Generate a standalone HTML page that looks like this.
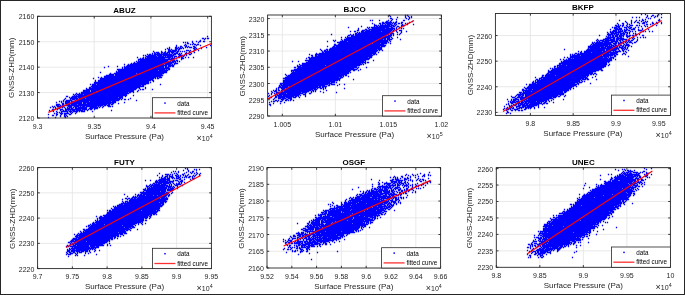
<!DOCTYPE html>
<html><head><meta charset="utf-8"><style>
html,body{margin:0;padding:0;background:#fff;}
svg{display:block;filter:blur(0.3px);}
text{font-family:"Liberation Sans", sans-serif;}
.tk{font-size:7px;fill:#262626;}
.lb{font-size:8px;fill:#262626;}
.tt{font-size:8px;font-weight:bold;fill:#000;}
.lg{font-size:6.3px;fill:#000;}
</style></head><body>
<svg width="685" height="295" viewBox="0 0 685 295">
<rect x="0" y="0" width="685" height="295" fill="#fff"/>
<path d="M94.22 16.30V118.00M150.94 16.30V118.00M207.66 16.30V118.00M37.50 92.58H211.40M37.50 67.15H211.40M37.50 41.72H211.40" stroke="#e3e3e3" stroke-width="0.8" fill="none"/>
<path d="M207.5 36.5h0M202.5 38.5h1M205.5 38.5h0M207.5 38.5h1M204.5 39.5h0M200.5 40.5h0M192.5 41.5h0M196.5 41.5h0M199.5 41.5h1M203.5 41.5h1M183.5 42.5h0M185.5 42.5h0M187.5 42.5h0M192.5 42.5h0M198.5 42.5h0M187.5 43.5h1M193.5 43.5h0M185.5 44.5h0M190.5 44.5h0M192.5 44.5h0M194.5 44.5h1M197.5 44.5h1M176.5 45.5h0M184.5 45.5h0M186.5 45.5h0M196.5 45.5h0M200.5 45.5h0M210.5 45.5h0M176.5 46.5h0M180.5 46.5h1M185.5 46.5h1M188.5 46.5h0M193.5 46.5h1M169.5 47.5h0M175.5 47.5h1M178.5 47.5h0M180.5 47.5h0M182.5 47.5h0M185.5 47.5h0M187.5 47.5h0M189.5 47.5h2M194.5 47.5h1M206.5 47.5h0M167.5 48.5h0M169.5 48.5h0M175.5 48.5h2M179.5 48.5h2M183.5 48.5h0M193.5 48.5h1M196.5 48.5h0M201.5 48.5h0M165.5 49.5h0M168.5 49.5h1M171.5 49.5h0M175.5 49.5h1M178.5 49.5h1M194.5 49.5h1M168.5 50.5h2M172.5 50.5h4M178.5 50.5h0M186.5 50.5h2M190.5 50.5h0M194.5 50.5h0M198.5 50.5h0M153.5 51.5h0M161.5 51.5h0M165.5 51.5h0M168.5 51.5h7M177.5 51.5h1M180.5 51.5h0M182.5 51.5h0M184.5 51.5h0M189.5 51.5h0M193.5 51.5h0M154.5 52.5h0M156.5 52.5h2M161.5 52.5h1M164.5 52.5h1M167.5 52.5h2M171.5 52.5h2M176.5 52.5h1M186.5 52.5h0M189.5 52.5h1M194.5 52.5h0M152.5 53.5h0M154.5 53.5h1M157.5 53.5h2M161.5 53.5h0M163.5 53.5h4M169.5 53.5h0M172.5 53.5h0M174.5 53.5h3M179.5 53.5h0M181.5 53.5h0M185.5 53.5h1M188.5 53.5h0M191.5 53.5h0M147.5 54.5h0M149.5 54.5h1M152.5 54.5h0M154.5 54.5h17M173.5 54.5h2M178.5 54.5h2M186.5 54.5h0M189.5 54.5h1M143.5 55.5h0M145.5 55.5h0M148.5 55.5h7M157.5 55.5h4M163.5 55.5h10M179.5 55.5h3M184.5 55.5h0M186.5 55.5h0M146.5 56.5h10M158.5 56.5h5M165.5 56.5h0M167.5 56.5h5M174.5 56.5h2M178.5 56.5h1M181.5 56.5h0M183.5 56.5h0M137.5 57.5h0M143.5 57.5h0M145.5 57.5h0M147.5 57.5h23M172.5 57.5h0M174.5 57.5h0M178.5 57.5h1M181.5 57.5h1M185.5 57.5h0M188.5 57.5h0M193.5 57.5h0M140.5 58.5h0M142.5 58.5h1M145.5 58.5h19M168.5 58.5h1M171.5 58.5h3M176.5 58.5h0M181.5 58.5h2M138.5 59.5h35M181.5 59.5h0M138.5 60.5h0M140.5 60.5h27M171.5 60.5h3M176.5 60.5h1M136.5 61.5h0M138.5 61.5h30M170.5 61.5h0M172.5 61.5h3M177.5 61.5h0M179.5 61.5h0M134.5 62.5h0M137.5 62.5h36M175.5 62.5h0M131.5 63.5h0M133.5 63.5h29M164.5 63.5h7M174.5 63.5h3M124.5 64.5h0M128.5 64.5h0M130.5 64.5h33M165.5 64.5h5M172.5 64.5h0M174.5 64.5h0M127.5 65.5h39M168.5 65.5h5M108.5 66.5h0M117.5 66.5h0M124.5 66.5h0M126.5 66.5h37M165.5 66.5h1M168.5 66.5h2M172.5 66.5h1M104.5 67.5h0M122.5 67.5h0M124.5 67.5h39M165.5 67.5h3M122.5 68.5h0M124.5 68.5h45M117.5 69.5h47M166.5 69.5h0M168.5 69.5h1M118.5 70.5h39M159.5 70.5h8M116.5 71.5h0M118.5 71.5h48M100.5 72.5h0M116.5 72.5h50M110.5 73.5h0M114.5 73.5h21M137.5 73.5h26M109.5 74.5h4M115.5 74.5h46M106.5 75.5h7M115.5 75.5h47M104.5 76.5h56M98.5 77.5h0M101.5 77.5h0M104.5 77.5h51M157.5 77.5h0M159.5 77.5h2M93.5 78.5h0M100.5 78.5h53M155.5 78.5h0M157.5 78.5h1M100.5 79.5h52M95.5 80.5h0M98.5 80.5h52M152.5 80.5h1M95.5 81.5h0M98.5 81.5h50M153.5 81.5h0M94.5 82.5h54M150.5 82.5h0M94.5 83.5h54M90.5 84.5h0M92.5 84.5h3M97.5 84.5h48M160.5 84.5h0M92.5 85.5h48M142.5 85.5h1M91.5 86.5h52M89.5 87.5h1M92.5 87.5h47M145.5 87.5h0M86.5 88.5h0M89.5 88.5h47M139.5 88.5h0M145.5 88.5h0M86.5 89.5h49M140.5 89.5h0M142.5 89.5h1M152.5 89.5h0M83.5 90.5h6M91.5 90.5h42M138.5 90.5h0M83.5 91.5h6M91.5 91.5h4M97.5 91.5h36M137.5 91.5h0M81.5 92.5h46M129.5 92.5h1M133.5 92.5h0M76.5 93.5h0M79.5 93.5h0M81.5 93.5h47M73.5 94.5h0M75.5 94.5h0M77.5 94.5h5M84.5 94.5h42M74.5 95.5h0M76.5 95.5h0M78.5 95.5h48M133.5 95.5h0M66.5 96.5h1M72.5 96.5h50M125.5 96.5h0M69.5 97.5h0M71.5 97.5h5M78.5 97.5h39M119.5 97.5h3M65.5 98.5h0M70.5 98.5h7M79.5 98.5h5M86.5 98.5h34M122.5 98.5h0M130.5 98.5h0M64.5 99.5h0M70.5 99.5h0M72.5 99.5h2M76.5 99.5h43M121.5 99.5h0M124.5 99.5h1M128.5 99.5h0M63.5 100.5h0M66.5 100.5h5M75.5 100.5h0M77.5 100.5h41M136.5 100.5h0M59.5 101.5h0M61.5 101.5h0M63.5 101.5h0M65.5 101.5h4M71.5 101.5h17M90.5 101.5h20M112.5 101.5h3M56.5 102.5h0M61.5 102.5h0M65.5 102.5h4M71.5 102.5h10M83.5 102.5h32M124.5 102.5h0M62.5 103.5h1M65.5 103.5h3M70.5 103.5h11M83.5 103.5h2M87.5 103.5h23M112.5 103.5h1M118.5 103.5h0M56.5 104.5h3M62.5 104.5h1M68.5 104.5h1M71.5 104.5h5M78.5 104.5h28M108.5 104.5h1M111.5 104.5h1M56.5 105.5h2M60.5 105.5h0M62.5 105.5h40M104.5 105.5h1M107.5 105.5h2M52.5 106.5h0M54.5 106.5h0M57.5 106.5h6M68.5 106.5h3M74.5 106.5h4M80.5 106.5h0M82.5 106.5h2M86.5 106.5h10M98.5 106.5h0M100.5 106.5h0M103.5 106.5h0M108.5 106.5h2M112.5 106.5h0M50.5 107.5h0M53.5 107.5h0M55.5 107.5h0M59.5 107.5h1M62.5 107.5h0M64.5 107.5h0M67.5 107.5h0M69.5 107.5h2M73.5 107.5h0M75.5 107.5h1M78.5 107.5h8M90.5 107.5h7M99.5 107.5h0M102.5 107.5h0M55.5 108.5h0M57.5 108.5h2M65.5 108.5h0M67.5 108.5h2M71.5 108.5h1M75.5 108.5h11M89.5 108.5h3M94.5 108.5h3M52.5 109.5h1M57.5 109.5h0M60.5 109.5h2M65.5 109.5h15M82.5 109.5h4M88.5 109.5h0M90.5 109.5h1M94.5 109.5h0M49.5 110.5h0M52.5 110.5h0M60.5 110.5h0M63.5 110.5h0M65.5 110.5h1M68.5 110.5h0M70.5 110.5h0M72.5 110.5h2M76.5 110.5h6M84.5 110.5h0M87.5 110.5h0M111.5 110.5h0M53.5 111.5h0M56.5 111.5h0M61.5 111.5h6M69.5 111.5h2M73.5 111.5h4M79.5 111.5h0M81.5 111.5h3M92.5 111.5h0M57.5 112.5h0M59.5 112.5h0M61.5 112.5h0M67.5 112.5h0M70.5 112.5h0M72.5 112.5h0M76.5 112.5h0M54.5 113.5h0M56.5 113.5h0M60.5 113.5h2M64.5 113.5h4M71.5 113.5h0M75.5 113.5h0M48.5 114.5h0M56.5 114.5h1M61.5 114.5h0M64.5 114.5h1M69.5 114.5h1M52.5 115.5h1M56.5 115.5h0M60.5 115.5h0M64.5 115.5h0M66.5 115.5h0M60.5 116.5h0M64.5 116.5h1M67.5 116.5h0M48.5 117.5h0M55.5 117.5h0M65.5 117.5h0" stroke="#0000ff" stroke-width="1.3" stroke-linecap="square" fill="none"/>
<path d="M48.40 112.40L211.40 43.50" stroke="#ff0000" stroke-width="1.15" fill="none"/>
<path d="M37.50 118.00v-2.2M37.50 16.30v2.2M94.22 118.00v-2.2M94.22 16.30v2.2M150.94 118.00v-2.2M150.94 16.30v2.2M207.66 118.00v-2.2M207.66 16.30v2.2M37.50 118.00h2.2M211.40 118.00h-2.2M37.50 92.58h2.2M211.40 92.58h-2.2M37.50 67.15h2.2M211.40 67.15h-2.2M37.50 41.72h2.2M211.40 41.72h-2.2M37.50 16.30h2.2M211.40 16.30h-2.2" stroke="#262626" stroke-width="0.9" fill="none"/>
<rect x="37.50" y="16.30" width="173.90" height="101.70" fill="none" stroke="#262626" stroke-width="0.9"/>
<text x="37.50" y="128.80" text-anchor="middle" class="tk">9.3</text>
<text x="94.22" y="128.80" text-anchor="middle" class="tk">9.35</text>
<text x="150.94" y="128.80" text-anchor="middle" class="tk">9.4</text>
<text x="207.66" y="128.80" text-anchor="middle" class="tk">9.45</text>
<text x="34.30" y="121.00" text-anchor="end" class="tk">2120</text>
<text x="34.30" y="95.58" text-anchor="end" class="tk">2130</text>
<text x="34.30" y="70.15" text-anchor="end" class="tk">2140</text>
<text x="34.30" y="44.72" text-anchor="end" class="tk">2150</text>
<text x="34.30" y="19.30" text-anchor="end" class="tk">2160</text>
<text x="124.45" y="138.50" text-anchor="middle" class="lb">Surface Pressure (Pa)</text>
<text transform="translate(14.10 67.85) rotate(-90)" text-anchor="middle" class="lb">GNSS-ZHD(mm)</text>
<text x="212.60" y="140.80" text-anchor="end" class="tk"><tspan font-size="9">&#215;</tspan>10<tspan dy="-3.2" font-size="5.3">4</tspan></text>
<text x="124.45" y="13.20" text-anchor="middle" class="tt">ABUZ</text>
<rect x="152.40" y="97.70" width="59.00" height="20.30" fill="#fff" stroke="#262626" stroke-width="0.8"/>
<rect x="164.25" y="102.35" width="1.5" height="1.5" fill="#0000ff"/>
<path d="M154.40 112.90H175.40" stroke="#ff3030" stroke-width="1.3"/>
<text x="177.20" y="105.50" class="lg">data</text>
<text x="177.20" y="115.00" class="lg">fitted curve</text>
<path d="M282.34 15.00V116.00M335.36 15.00V116.00M388.38 15.00V116.00M267.60 99.76H441.40M267.60 83.52H441.40M267.60 67.29H441.40M267.60 51.05H441.40M267.60 34.81H441.40M267.60 18.57H441.40" stroke="#e3e3e3" stroke-width="0.8" fill="none"/>
<path d="M389.5 15.5h0M405.5 15.5h0M407.5 15.5h0M390.5 16.5h0M405.5 16.5h0M408.5 16.5h0M411.5 16.5h0M397.5 17.5h0M405.5 17.5h0M409.5 17.5h0M411.5 17.5h0M390.5 18.5h1M406.5 18.5h0M409.5 18.5h0M392.5 19.5h0M396.5 19.5h0M408.5 19.5h0M370.5 20.5h0M372.5 20.5h0M379.5 20.5h0M388.5 20.5h0M391.5 20.5h0M403.5 20.5h1M386.5 21.5h1M390.5 21.5h0M396.5 21.5h0M412.5 21.5h0M382.5 22.5h1M385.5 22.5h6M393.5 22.5h0M395.5 22.5h1M401.5 22.5h1M409.5 22.5h0M372.5 23.5h0M379.5 23.5h1M382.5 23.5h2M386.5 23.5h4M392.5 23.5h0M394.5 23.5h1M398.5 23.5h1M401.5 23.5h0M405.5 23.5h0M407.5 23.5h0M374.5 24.5h0M380.5 24.5h0M382.5 24.5h0M385.5 24.5h0M387.5 24.5h4M394.5 24.5h0M396.5 24.5h0M402.5 24.5h0M407.5 24.5h0M413.5 24.5h0M374.5 25.5h2M378.5 25.5h0M380.5 25.5h9M391.5 25.5h2M395.5 25.5h0M401.5 25.5h3M361.5 26.5h0M374.5 26.5h0M376.5 26.5h1M379.5 26.5h12M393.5 26.5h1M397.5 26.5h1M401.5 26.5h0M348.5 27.5h0M367.5 27.5h0M369.5 27.5h0M371.5 27.5h17M391.5 27.5h1M396.5 27.5h0M399.5 27.5h0M358.5 28.5h0M368.5 28.5h0M372.5 28.5h12M386.5 28.5h8M396.5 28.5h0M401.5 28.5h0M403.5 28.5h0M358.5 29.5h0M365.5 29.5h1M369.5 29.5h23M394.5 29.5h0M396.5 29.5h0M357.5 30.5h1M362.5 30.5h2M366.5 30.5h3M371.5 30.5h20M393.5 30.5h0M396.5 30.5h0M399.5 30.5h2M350.5 31.5h0M354.5 31.5h1M361.5 31.5h2M365.5 31.5h15M382.5 31.5h8M392.5 31.5h0M396.5 31.5h0M401.5 31.5h0M406.5 31.5h0M357.5 32.5h0M359.5 32.5h0M361.5 32.5h28M391.5 32.5h0M397.5 32.5h0M401.5 32.5h0M355.5 33.5h1M358.5 33.5h30M390.5 33.5h3M400.5 33.5h0M331.5 34.5h0M350.5 34.5h0M353.5 34.5h0M355.5 34.5h33M390.5 34.5h1M393.5 34.5h0M397.5 34.5h0M399.5 34.5h0M348.5 35.5h1M351.5 35.5h2M355.5 35.5h30M388.5 35.5h3M393.5 35.5h0M347.5 36.5h0M351.5 36.5h39M341.5 37.5h0M345.5 37.5h0M347.5 37.5h42M391.5 37.5h0M397.5 37.5h0M346.5 38.5h39M387.5 38.5h2M392.5 38.5h0M341.5 39.5h0M344.5 39.5h38M384.5 39.5h1M387.5 39.5h4M400.5 39.5h0M333.5 40.5h0M335.5 40.5h0M342.5 40.5h0M344.5 40.5h43M389.5 40.5h0M327.5 41.5h0M334.5 41.5h0M340.5 41.5h6M348.5 41.5h39M390.5 41.5h0M337.5 42.5h49M388.5 42.5h0M339.5 43.5h32M373.5 43.5h6M381.5 43.5h5M390.5 43.5h0M334.5 44.5h1M338.5 44.5h45M334.5 45.5h51M327.5 46.5h0M333.5 46.5h1M336.5 46.5h43M381.5 46.5h3M332.5 47.5h49M330.5 48.5h51M320.5 49.5h0M326.5 49.5h1M329.5 49.5h47M378.5 49.5h3M321.5 50.5h0M324.5 50.5h1M327.5 50.5h0M329.5 50.5h48M379.5 50.5h0M382.5 50.5h0M322.5 51.5h0M324.5 51.5h52M322.5 52.5h1M325.5 52.5h50M378.5 52.5h0M316.5 53.5h0M319.5 53.5h56M309.5 54.5h0M315.5 54.5h56M373.5 54.5h1M376.5 54.5h0M311.5 55.5h1M315.5 55.5h1M318.5 55.5h54M312.5 56.5h0M315.5 56.5h56M308.5 57.5h1M311.5 57.5h56M369.5 57.5h2M306.5 58.5h0M309.5 58.5h60M309.5 59.5h59M305.5 60.5h60M373.5 60.5h0M292.5 61.5h0M298.5 61.5h0M308.5 61.5h55M365.5 61.5h0M306.5 62.5h59M367.5 62.5h1M302.5 63.5h58M362.5 63.5h0M365.5 63.5h0M299.5 64.5h0M302.5 64.5h59M363.5 64.5h0M297.5 65.5h0M300.5 65.5h24M326.5 65.5h33M297.5 66.5h3M302.5 66.5h54M294.5 67.5h1M298.5 67.5h58M358.5 67.5h0M366.5 67.5h0M297.5 68.5h56M357.5 68.5h0M294.5 69.5h62M360.5 69.5h0M291.5 70.5h59M353.5 70.5h1M358.5 70.5h0M291.5 71.5h0M293.5 71.5h0M295.5 71.5h54M292.5 72.5h56M350.5 72.5h0M291.5 73.5h57M285.5 74.5h0M290.5 74.5h56M286.5 75.5h0M288.5 75.5h55M345.5 75.5h1M287.5 76.5h54M343.5 76.5h0M348.5 76.5h0M285.5 77.5h53M340.5 77.5h2M283.5 78.5h57M285.5 79.5h54M353.5 79.5h0M283.5 80.5h54M339.5 80.5h0M283.5 81.5h51M283.5 82.5h46M331.5 82.5h3M336.5 82.5h0M280.5 83.5h51M280.5 84.5h1M283.5 84.5h44M329.5 84.5h0M331.5 84.5h3M339.5 84.5h0M344.5 84.5h0M279.5 85.5h0M281.5 85.5h43M328.5 85.5h1M337.5 85.5h0M279.5 86.5h1M282.5 86.5h5M289.5 86.5h28M319.5 86.5h1M322.5 86.5h4M278.5 87.5h42M322.5 87.5h1M325.5 87.5h0M276.5 88.5h0M278.5 88.5h0M281.5 88.5h3M286.5 88.5h29M317.5 88.5h0M320.5 88.5h1M323.5 88.5h0M325.5 88.5h0M344.5 88.5h0M276.5 89.5h0M278.5 89.5h0M282.5 89.5h30M314.5 89.5h2M323.5 89.5h0M273.5 90.5h0M275.5 90.5h1M278.5 90.5h1M281.5 90.5h29M312.5 90.5h1M315.5 90.5h0M326.5 90.5h0M271.5 91.5h0M274.5 91.5h2M281.5 91.5h1M284.5 91.5h24M311.5 91.5h0M313.5 91.5h0M315.5 91.5h0M320.5 91.5h0M272.5 92.5h0M276.5 92.5h24M302.5 92.5h4M311.5 92.5h0M323.5 92.5h0M336.5 92.5h0M268.5 93.5h0M271.5 93.5h0M274.5 93.5h0M276.5 93.5h0M278.5 93.5h7M287.5 93.5h15M305.5 93.5h0M309.5 93.5h1M271.5 94.5h0M275.5 94.5h2M279.5 94.5h20M303.5 94.5h2M269.5 95.5h0M275.5 95.5h0M277.5 95.5h4M283.5 95.5h15M300.5 95.5h0M305.5 95.5h0M268.5 96.5h0M275.5 96.5h1M278.5 96.5h15M295.5 96.5h1M298.5 96.5h0M305.5 96.5h0M270.5 97.5h1M275.5 97.5h1M278.5 97.5h6M286.5 97.5h5M293.5 97.5h2M299.5 97.5h0M269.5 98.5h0M274.5 98.5h0M278.5 98.5h2M282.5 98.5h3M288.5 98.5h3M273.5 99.5h0M281.5 99.5h2M286.5 99.5h1M290.5 99.5h1M275.5 100.5h1M278.5 100.5h0M282.5 100.5h0M285.5 100.5h1M288.5 100.5h0M290.5 100.5h0M293.5 100.5h0M271.5 101.5h0M273.5 101.5h1M277.5 101.5h0M280.5 101.5h1M269.5 102.5h0M284.5 102.5h0M273.5 103.5h0M280.5 103.5h0M269.5 104.5h1M270.5 105.5h0" stroke="#0000ff" stroke-width="1.3" stroke-linecap="square" fill="none"/>
<path d="M267.60 99.00L414.00 20.60" stroke="#ff0000" stroke-width="1.15" fill="none"/>
<path d="M282.34 116.00v-2.2M282.34 15.00v2.2M335.36 116.00v-2.2M335.36 15.00v2.2M388.38 116.00v-2.2M388.38 15.00v2.2M441.40 116.00v-2.2M441.40 15.00v2.2M267.60 116.00h2.2M441.40 116.00h-2.2M267.60 99.76h2.2M441.40 99.76h-2.2M267.60 83.52h2.2M441.40 83.52h-2.2M267.60 67.29h2.2M441.40 67.29h-2.2M267.60 51.05h2.2M441.40 51.05h-2.2M267.60 34.81h2.2M441.40 34.81h-2.2M267.60 18.57h2.2M441.40 18.57h-2.2" stroke="#262626" stroke-width="0.9" fill="none"/>
<rect x="267.60" y="15.00" width="173.80" height="101.00" fill="none" stroke="#262626" stroke-width="0.9"/>
<text x="282.34" y="126.80" text-anchor="middle" class="tk">1.005</text>
<text x="335.36" y="126.80" text-anchor="middle" class="tk">1.01</text>
<text x="388.38" y="126.80" text-anchor="middle" class="tk">1.015</text>
<text x="441.40" y="126.80" text-anchor="middle" class="tk">1.02</text>
<text x="264.40" y="119.00" text-anchor="end" class="tk">2290</text>
<text x="264.40" y="102.76" text-anchor="end" class="tk">2295</text>
<text x="264.40" y="86.52" text-anchor="end" class="tk">2300</text>
<text x="264.40" y="70.29" text-anchor="end" class="tk">2305</text>
<text x="264.40" y="54.05" text-anchor="end" class="tk">2310</text>
<text x="264.40" y="37.81" text-anchor="end" class="tk">2315</text>
<text x="264.40" y="21.57" text-anchor="end" class="tk">2320</text>
<text x="354.50" y="136.50" text-anchor="middle" class="lb">Surface Pressure (Pa)</text>
<text transform="translate(244.60 66.20) rotate(-90)" text-anchor="middle" class="lb">GNSS-ZHD(mm)</text>
<text x="442.60" y="138.80" text-anchor="end" class="tk"><tspan font-size="9">&#215;</tspan>10<tspan dy="-3.2" font-size="5.3">5</tspan></text>
<text x="354.50" y="11.90" text-anchor="middle" class="tt">BJCO</text>
<rect x="382.40" y="95.70" width="59.00" height="20.30" fill="#fff" stroke="#262626" stroke-width="0.8"/>
<rect x="394.25" y="100.35" width="1.5" height="1.5" fill="#0000ff"/>
<path d="M384.40 110.90H405.40" stroke="#ff3030" stroke-width="1.3"/>
<text x="407.20" y="103.50" class="lg">data</text>
<text x="407.20" y="113.00" class="lg">fitted curve</text>
<path d="M530.40 13.50V115.40M573.19 13.50V115.40M615.97 13.50V115.40M658.76 13.50V115.40M495.40 112.40H670.40M495.40 86.78H670.40M495.40 61.16H670.40M495.40 35.54H670.40" stroke="#e3e3e3" stroke-width="0.8" fill="none"/>
<path d="M641.5 14.5h0M645.5 14.5h0M658.5 14.5h0M661.5 14.5h0M647.5 15.5h0M652.5 15.5h1M657.5 15.5h0M647.5 16.5h0M651.5 16.5h0M655.5 16.5h0M657.5 16.5h0M632.5 17.5h0M636.5 17.5h0M639.5 17.5h0M646.5 17.5h0M654.5 17.5h0M661.5 17.5h0M648.5 18.5h0M650.5 18.5h0M642.5 19.5h0M645.5 19.5h0M659.5 19.5h0M619.5 20.5h0M631.5 20.5h0M636.5 20.5h0M639.5 20.5h0M642.5 20.5h1M658.5 20.5h1M625.5 21.5h0M631.5 21.5h0M635.5 21.5h0M641.5 21.5h0M645.5 21.5h0M647.5 21.5h0M626.5 22.5h0M631.5 22.5h0M634.5 22.5h0M637.5 22.5h1M643.5 22.5h1M646.5 22.5h0M652.5 22.5h0M656.5 22.5h0M661.5 22.5h0M617.5 23.5h0M622.5 23.5h1M627.5 23.5h0M631.5 23.5h0M639.5 23.5h0M642.5 23.5h2M652.5 23.5h1M657.5 23.5h0M661.5 23.5h0M618.5 24.5h0M623.5 24.5h0M627.5 24.5h0M629.5 24.5h0M646.5 24.5h1M650.5 24.5h0M615.5 25.5h1M618.5 25.5h0M620.5 25.5h0M622.5 25.5h1M626.5 25.5h0M630.5 25.5h2M636.5 25.5h1M639.5 25.5h0M644.5 25.5h0M652.5 25.5h0M656.5 25.5h0M616.5 26.5h3M622.5 26.5h0M627.5 26.5h0M629.5 26.5h0M641.5 26.5h0M645.5 26.5h0M647.5 26.5h0M612.5 27.5h0M614.5 27.5h2M618.5 27.5h1M624.5 27.5h2M628.5 27.5h0M630.5 27.5h1M635.5 27.5h0M638.5 27.5h0M614.5 28.5h3M619.5 28.5h2M626.5 28.5h0M629.5 28.5h1M633.5 28.5h1M642.5 28.5h0M610.5 29.5h0M615.5 29.5h6M624.5 29.5h0M626.5 29.5h1M631.5 29.5h3M638.5 29.5h0M642.5 29.5h0M648.5 29.5h0M613.5 30.5h3M618.5 30.5h0M620.5 30.5h0M622.5 30.5h0M624.5 30.5h2M628.5 30.5h1M638.5 30.5h3M610.5 31.5h0M612.5 31.5h4M618.5 31.5h4M624.5 31.5h1M630.5 31.5h0M632.5 31.5h0M635.5 31.5h0M642.5 31.5h1M645.5 31.5h0M649.5 31.5h0M652.5 31.5h0M607.5 32.5h0M610.5 32.5h3M615.5 32.5h5M623.5 32.5h0M625.5 32.5h2M629.5 32.5h0M640.5 32.5h0M608.5 33.5h0M611.5 33.5h5M618.5 33.5h0M620.5 33.5h4M627.5 33.5h0M629.5 33.5h0M633.5 33.5h0M635.5 33.5h0M607.5 34.5h5M614.5 34.5h0M616.5 34.5h2M620.5 34.5h1M623.5 34.5h1M626.5 34.5h0M635.5 34.5h1M639.5 34.5h0M599.5 35.5h0M608.5 35.5h2M612.5 35.5h1M615.5 35.5h2M619.5 35.5h4M626.5 35.5h1M629.5 35.5h1M632.5 35.5h1M635.5 35.5h1M642.5 35.5h1M606.5 36.5h0M608.5 36.5h0M610.5 36.5h0M612.5 36.5h1M615.5 36.5h2M619.5 36.5h2M623.5 36.5h0M626.5 36.5h3M607.5 37.5h7M617.5 37.5h1M620.5 37.5h1M627.5 37.5h0M633.5 37.5h0M637.5 37.5h0M640.5 37.5h0M643.5 37.5h0M645.5 37.5h0M605.5 38.5h5M613.5 38.5h1M616.5 38.5h7M629.5 38.5h0M632.5 38.5h0M634.5 38.5h0M597.5 39.5h0M603.5 39.5h5M610.5 39.5h4M616.5 39.5h2M620.5 39.5h6M633.5 39.5h0M637.5 39.5h0M596.5 40.5h0M598.5 40.5h0M600.5 40.5h3M605.5 40.5h9M616.5 40.5h1M619.5 40.5h1M622.5 40.5h0M626.5 40.5h0M628.5 40.5h1M631.5 40.5h1M637.5 40.5h0M597.5 41.5h0M599.5 41.5h0M602.5 41.5h6M611.5 41.5h6M620.5 41.5h0M623.5 41.5h0M625.5 41.5h1M628.5 41.5h0M630.5 41.5h0M636.5 41.5h0M592.5 42.5h0M594.5 42.5h0M596.5 42.5h6M604.5 42.5h8M615.5 42.5h1M618.5 42.5h0M620.5 42.5h2M625.5 42.5h0M627.5 42.5h0M629.5 42.5h2M634.5 42.5h1M592.5 43.5h1M595.5 43.5h15M613.5 43.5h3M618.5 43.5h3M623.5 43.5h0M626.5 43.5h0M632.5 43.5h0M591.5 44.5h0M593.5 44.5h18M614.5 44.5h1M618.5 44.5h1M624.5 44.5h0M626.5 44.5h2M590.5 45.5h0M592.5 45.5h15M609.5 45.5h0M611.5 45.5h2M615.5 45.5h1M618.5 45.5h0M620.5 45.5h1M623.5 45.5h0M625.5 45.5h4M588.5 46.5h15M605.5 46.5h6M613.5 46.5h2M617.5 46.5h0M619.5 46.5h0M622.5 46.5h1M625.5 46.5h0M628.5 46.5h0M631.5 46.5h0M588.5 47.5h11M601.5 47.5h4M607.5 47.5h5M614.5 47.5h3M619.5 47.5h3M624.5 47.5h1M627.5 47.5h0M588.5 48.5h0M590.5 48.5h28M621.5 48.5h2M625.5 48.5h0M627.5 48.5h0M564.5 49.5h0M587.5 49.5h17M606.5 49.5h10M618.5 49.5h0M622.5 49.5h0M624.5 49.5h0M626.5 49.5h0M586.5 50.5h18M606.5 50.5h9M619.5 50.5h0M622.5 50.5h1M628.5 50.5h0M578.5 51.5h0M581.5 51.5h0M584.5 51.5h17M603.5 51.5h7M613.5 51.5h0M615.5 51.5h5M623.5 51.5h0M625.5 51.5h0M580.5 52.5h1M584.5 52.5h6M592.5 52.5h25M626.5 52.5h0M575.5 53.5h1M578.5 53.5h0M580.5 53.5h28M610.5 53.5h6M623.5 53.5h1M570.5 54.5h0M572.5 54.5h0M574.5 54.5h0M577.5 54.5h37M616.5 54.5h1M622.5 54.5h0M625.5 54.5h0M570.5 55.5h0M572.5 55.5h7M581.5 55.5h20M603.5 55.5h9M614.5 55.5h1M570.5 56.5h38M610.5 56.5h0M614.5 56.5h1M628.5 56.5h0M564.5 57.5h0M567.5 57.5h0M570.5 57.5h32M604.5 57.5h2M608.5 57.5h0M610.5 57.5h3M568.5 58.5h2M572.5 58.5h0M574.5 58.5h33M609.5 58.5h2M613.5 58.5h0M560.5 59.5h0M563.5 59.5h0M566.5 59.5h0M568.5 59.5h43M615.5 59.5h0M564.5 60.5h47M561.5 61.5h0M563.5 61.5h46M561.5 62.5h45M608.5 62.5h0M559.5 63.5h47M559.5 64.5h1M562.5 64.5h44M609.5 64.5h0M557.5 65.5h8M567.5 65.5h38M608.5 65.5h0M554.5 66.5h1M557.5 66.5h0M559.5 66.5h46M554.5 67.5h0M557.5 67.5h46M550.5 68.5h0M552.5 68.5h0M554.5 68.5h47M552.5 69.5h49M548.5 70.5h0M551.5 70.5h47M601.5 70.5h1M548.5 71.5h47M548.5 72.5h44M547.5 73.5h1M550.5 73.5h42M594.5 73.5h1M546.5 74.5h42M590.5 74.5h1M593.5 74.5h0M596.5 74.5h0M542.5 75.5h1M545.5 75.5h9M556.5 75.5h32M542.5 76.5h0M545.5 76.5h40M587.5 76.5h0M595.5 76.5h0M535.5 77.5h0M541.5 77.5h45M592.5 77.5h0M539.5 78.5h2M543.5 78.5h40M585.5 78.5h2M536.5 79.5h1M539.5 79.5h0M541.5 79.5h39M582.5 79.5h3M587.5 79.5h1M596.5 79.5h0M535.5 80.5h0M537.5 80.5h42M581.5 80.5h0M533.5 81.5h0M535.5 81.5h0M537.5 81.5h42M582.5 81.5h0M584.5 81.5h0M532.5 82.5h1M535.5 82.5h42M579.5 82.5h2M532.5 83.5h3M537.5 83.5h37M577.5 83.5h1M590.5 83.5h0M526.5 84.5h0M529.5 84.5h47M578.5 84.5h0M529.5 85.5h46M528.5 86.5h45M576.5 86.5h0M524.5 87.5h0M527.5 87.5h44M525.5 88.5h45M573.5 88.5h0M522.5 89.5h1M526.5 89.5h0M528.5 89.5h3M533.5 89.5h35M570.5 89.5h0M522.5 90.5h46M523.5 91.5h0M525.5 91.5h5M532.5 91.5h30M564.5 91.5h2M519.5 92.5h2M523.5 92.5h39M564.5 92.5h1M520.5 93.5h0M522.5 93.5h41M517.5 94.5h6M525.5 94.5h38M516.5 95.5h0M518.5 95.5h2M522.5 95.5h1M525.5 95.5h32M560.5 95.5h0M565.5 95.5h0M511.5 96.5h0M515.5 96.5h0M518.5 96.5h1M521.5 96.5h1M525.5 96.5h31M558.5 96.5h1M564.5 96.5h0M512.5 97.5h2M517.5 97.5h9M528.5 97.5h23M553.5 97.5h2M515.5 98.5h1M520.5 98.5h4M526.5 98.5h26M507.5 99.5h0M511.5 99.5h0M513.5 99.5h5M520.5 99.5h2M524.5 99.5h2M528.5 99.5h20M553.5 99.5h0M563.5 99.5h0M511.5 100.5h0M513.5 100.5h2M518.5 100.5h0M521.5 100.5h3M526.5 100.5h20M548.5 100.5h0M551.5 100.5h0M508.5 101.5h0M510.5 101.5h0M512.5 101.5h2M516.5 101.5h3M521.5 101.5h1M524.5 101.5h11M537.5 101.5h6M545.5 101.5h1M549.5 101.5h0M510.5 102.5h5M517.5 102.5h2M521.5 102.5h2M525.5 102.5h1M528.5 102.5h11M541.5 102.5h0M544.5 102.5h1M553.5 102.5h0M508.5 103.5h0M511.5 103.5h1M516.5 103.5h6M524.5 103.5h4M530.5 103.5h11M543.5 103.5h1M546.5 103.5h1M506.5 104.5h0M508.5 104.5h0M513.5 104.5h0M515.5 104.5h1M518.5 104.5h0M520.5 104.5h4M526.5 104.5h1M529.5 104.5h9M542.5 104.5h0M509.5 105.5h0M511.5 105.5h0M514.5 105.5h1M518.5 105.5h2M522.5 105.5h14M538.5 105.5h0M504.5 106.5h0M509.5 106.5h3M516.5 106.5h3M522.5 106.5h3M527.5 106.5h6M538.5 106.5h0M507.5 107.5h0M509.5 107.5h0M511.5 107.5h0M513.5 107.5h0M516.5 107.5h0M519.5 107.5h4M525.5 107.5h6M534.5 107.5h0M538.5 107.5h0M544.5 107.5h0M504.5 108.5h0M506.5 108.5h1M509.5 108.5h1M512.5 108.5h1M517.5 108.5h2M521.5 108.5h0M525.5 108.5h1M528.5 108.5h0M530.5 108.5h0M534.5 108.5h0M503.5 109.5h0M507.5 109.5h1M510.5 109.5h0M514.5 109.5h3M524.5 109.5h1M506.5 110.5h0M511.5 110.5h1M515.5 110.5h0M518.5 110.5h1M521.5 110.5h1M507.5 111.5h0M507.5 112.5h1M506.5 113.5h0M510.5 113.5h0" stroke="#0000ff" stroke-width="1.3" stroke-linecap="square" fill="none"/>
<path d="M503.00 111.40L661.60 20.60" stroke="#ff0000" stroke-width="1.15" fill="none"/>
<path d="M530.40 115.40v-2.2M530.40 13.50v2.2M573.19 115.40v-2.2M573.19 13.50v2.2M615.97 115.40v-2.2M615.97 13.50v2.2M658.76 115.40v-2.2M658.76 13.50v2.2M495.40 112.40h2.2M670.40 112.40h-2.2M495.40 86.78h2.2M670.40 86.78h-2.2M495.40 61.16h2.2M670.40 61.16h-2.2M495.40 35.54h2.2M670.40 35.54h-2.2" stroke="#262626" stroke-width="0.9" fill="none"/>
<rect x="495.40" y="13.50" width="175.00" height="101.90" fill="none" stroke="#262626" stroke-width="0.9"/>
<text x="530.40" y="126.20" text-anchor="middle" class="tk">9.8</text>
<text x="573.19" y="126.20" text-anchor="middle" class="tk">9.85</text>
<text x="615.97" y="126.20" text-anchor="middle" class="tk">9.9</text>
<text x="658.76" y="126.20" text-anchor="middle" class="tk">9.95</text>
<text x="492.20" y="115.40" text-anchor="end" class="tk">2230</text>
<text x="492.20" y="89.78" text-anchor="end" class="tk">2240</text>
<text x="492.20" y="64.16" text-anchor="end" class="tk">2250</text>
<text x="492.20" y="38.54" text-anchor="end" class="tk">2260</text>
<text x="582.90" y="135.90" text-anchor="middle" class="lb">Surface Pressure (Pa)</text>
<text transform="translate(472.90 65.15) rotate(-90)" text-anchor="middle" class="lb">GNSS-ZHD(mm)</text>
<text x="671.60" y="138.20" text-anchor="end" class="tk"><tspan font-size="9">&#215;</tspan>10<tspan dy="-3.2" font-size="5.3">4</tspan></text>
<text x="582.90" y="10.40" text-anchor="middle" class="tt">BKFP</text>
<rect x="611.40" y="95.10" width="59.00" height="20.30" fill="#fff" stroke="#262626" stroke-width="0.8"/>
<rect x="623.25" y="99.75" width="1.5" height="1.5" fill="#0000ff"/>
<path d="M613.40 110.30H634.40" stroke="#ff3030" stroke-width="1.3"/>
<text x="636.20" y="102.90" class="lg">data</text>
<text x="636.20" y="112.40" class="lg">fitted curve</text>
<path d="M72.36 167.60V268.60M107.12 167.60V268.60M141.88 167.60V268.60M176.64 167.60V268.60M37.60 243.35H211.40M37.60 218.10H211.40M37.60 192.85H211.40" stroke="#e3e3e3" stroke-width="0.8" fill="none"/>
<path d="M185.5 168.5h0M187.5 168.5h0M187.5 169.5h0M194.5 169.5h0M196.5 169.5h0M199.5 169.5h0M183.5 170.5h0M188.5 170.5h0M196.5 170.5h0M173.5 171.5h0M175.5 171.5h0M178.5 171.5h0M188.5 171.5h0M192.5 171.5h1M171.5 172.5h0M178.5 172.5h0M186.5 172.5h0M190.5 172.5h0M192.5 172.5h0M196.5 172.5h0M159.5 173.5h0M174.5 173.5h0M176.5 173.5h0M184.5 173.5h0M191.5 173.5h0M194.5 173.5h0M197.5 173.5h0M200.5 173.5h0M165.5 174.5h3M170.5 174.5h0M172.5 174.5h0M177.5 174.5h0M182.5 174.5h1M188.5 174.5h0M196.5 174.5h0M199.5 174.5h0M157.5 175.5h0M162.5 175.5h0M167.5 175.5h0M169.5 175.5h0M172.5 175.5h0M175.5 175.5h1M178.5 175.5h0M180.5 175.5h0M183.5 175.5h0M185.5 175.5h0M187.5 175.5h0M193.5 175.5h0M195.5 175.5h0M199.5 175.5h0M162.5 176.5h0M165.5 176.5h2M169.5 176.5h3M176.5 176.5h2M180.5 176.5h0M185.5 176.5h1M189.5 176.5h1M192.5 176.5h0M194.5 176.5h0M159.5 177.5h0M161.5 177.5h0M164.5 177.5h1M167.5 177.5h0M169.5 177.5h0M171.5 177.5h2M176.5 177.5h0M178.5 177.5h1M182.5 177.5h0M184.5 177.5h0M186.5 177.5h0M188.5 177.5h1M192.5 177.5h0M161.5 178.5h4M167.5 178.5h2M172.5 178.5h0M174.5 178.5h0M176.5 178.5h2M180.5 178.5h0M192.5 178.5h2M159.5 179.5h10M179.5 179.5h1M184.5 179.5h0M190.5 179.5h0M145.5 180.5h0M150.5 180.5h0M156.5 180.5h0M158.5 180.5h7M167.5 180.5h2M173.5 180.5h0M175.5 180.5h2M181.5 180.5h1M155.5 181.5h2M159.5 181.5h8M169.5 181.5h4M178.5 181.5h0M180.5 181.5h2M155.5 182.5h15M172.5 182.5h0M179.5 182.5h0M181.5 182.5h0M184.5 182.5h0M153.5 183.5h1M156.5 183.5h0M158.5 183.5h3M163.5 183.5h5M170.5 183.5h0M173.5 183.5h0M176.5 183.5h0M178.5 183.5h1M181.5 183.5h0M150.5 184.5h0M152.5 184.5h0M154.5 184.5h5M161.5 184.5h4M169.5 184.5h0M171.5 184.5h0M174.5 184.5h0M176.5 184.5h4M146.5 185.5h0M149.5 185.5h0M151.5 185.5h16M169.5 185.5h0M171.5 185.5h0M175.5 185.5h2M182.5 185.5h0M146.5 186.5h2M150.5 186.5h1M153.5 186.5h11M166.5 186.5h5M173.5 186.5h0M177.5 186.5h0M147.5 187.5h0M149.5 187.5h0M151.5 187.5h15M168.5 187.5h2M172.5 187.5h0M174.5 187.5h0M177.5 187.5h0M145.5 188.5h0M147.5 188.5h19M168.5 188.5h0M170.5 188.5h3M177.5 188.5h0M143.5 189.5h2M147.5 189.5h18M167.5 189.5h6M144.5 190.5h21M167.5 190.5h5M143.5 191.5h0M146.5 191.5h13M161.5 191.5h4M140.5 192.5h24M166.5 192.5h2M172.5 192.5h0M141.5 193.5h27M171.5 193.5h0M124.5 194.5h0M135.5 194.5h0M138.5 194.5h0M140.5 194.5h1M143.5 194.5h24M169.5 194.5h0M137.5 195.5h7M146.5 195.5h6M154.5 195.5h2M158.5 195.5h3M164.5 195.5h2M168.5 195.5h1M127.5 196.5h0M133.5 196.5h0M135.5 196.5h0M137.5 196.5h0M139.5 196.5h26M168.5 196.5h0M132.5 197.5h4M138.5 197.5h26M166.5 197.5h0M125.5 198.5h1M128.5 198.5h1M131.5 198.5h1M134.5 198.5h1M137.5 198.5h22M161.5 198.5h6M122.5 199.5h0M127.5 199.5h0M130.5 199.5h37M129.5 200.5h36M122.5 201.5h0M125.5 201.5h2M129.5 201.5h37M123.5 202.5h0M125.5 202.5h0M127.5 202.5h31M160.5 202.5h3M165.5 202.5h0M121.5 203.5h42M119.5 204.5h3M124.5 204.5h36M162.5 204.5h1M117.5 205.5h45M113.5 206.5h0M115.5 206.5h0M117.5 206.5h44M114.5 207.5h45M111.5 208.5h0M114.5 208.5h45M112.5 209.5h46M107.5 210.5h0M109.5 210.5h1M112.5 210.5h28M142.5 210.5h13M157.5 210.5h2M109.5 211.5h48M107.5 212.5h49M107.5 213.5h48M106.5 214.5h20M128.5 214.5h23M153.5 214.5h1M156.5 214.5h0M103.5 215.5h45M150.5 215.5h1M96.5 216.5h0M100.5 216.5h1M104.5 216.5h43M149.5 216.5h1M99.5 217.5h48M150.5 217.5h0M97.5 218.5h0M99.5 218.5h44M145.5 218.5h1M149.5 218.5h0M97.5 219.5h0M100.5 219.5h43M95.5 220.5h0M97.5 220.5h0M99.5 220.5h44M145.5 220.5h1M96.5 221.5h46M93.5 222.5h0M95.5 222.5h45M142.5 222.5h0M92.5 223.5h2M96.5 223.5h40M138.5 223.5h0M141.5 223.5h0M145.5 223.5h0M90.5 224.5h0M92.5 224.5h11M105.5 224.5h29M138.5 224.5h0M142.5 224.5h0M88.5 225.5h1M91.5 225.5h30M123.5 225.5h9M135.5 225.5h0M86.5 226.5h0M88.5 226.5h0M90.5 226.5h43M89.5 227.5h34M125.5 227.5h5M132.5 227.5h2M88.5 228.5h40M130.5 228.5h1M83.5 229.5h1M86.5 229.5h43M137.5 229.5h0M84.5 230.5h40M126.5 230.5h1M130.5 230.5h0M80.5 231.5h0M83.5 231.5h0M85.5 231.5h40M81.5 232.5h0M83.5 232.5h34M119.5 232.5h6M78.5 233.5h0M80.5 233.5h42M124.5 233.5h2M74.5 234.5h0M77.5 234.5h0M79.5 234.5h39M120.5 234.5h2M76.5 235.5h42M123.5 235.5h0M75.5 236.5h2M79.5 236.5h36M117.5 236.5h1M120.5 236.5h0M76.5 237.5h36M114.5 237.5h1M73.5 238.5h3M78.5 238.5h34M114.5 238.5h0M117.5 238.5h0M72.5 239.5h37M111.5 239.5h1M71.5 240.5h2M75.5 240.5h34M70.5 241.5h15M87.5 241.5h20M109.5 241.5h0M68.5 242.5h1M71.5 242.5h0M74.5 242.5h1M77.5 242.5h29M70.5 243.5h0M72.5 243.5h32M109.5 243.5h0M70.5 244.5h3M75.5 244.5h27M107.5 244.5h0M67.5 245.5h0M69.5 245.5h0M73.5 245.5h2M77.5 245.5h11M90.5 245.5h13M107.5 245.5h0M110.5 245.5h0M66.5 246.5h0M68.5 246.5h0M70.5 246.5h18M90.5 246.5h4M96.5 246.5h2M72.5 247.5h0M74.5 247.5h15M91.5 247.5h7M69.5 248.5h0M71.5 248.5h22M95.5 248.5h0M67.5 249.5h0M69.5 249.5h1M72.5 249.5h2M76.5 249.5h12M90.5 249.5h0M92.5 249.5h0M94.5 249.5h0M67.5 250.5h2M71.5 250.5h16M89.5 250.5h0M95.5 250.5h0M99.5 250.5h0M67.5 251.5h2M71.5 251.5h3M76.5 251.5h3M81.5 251.5h2M85.5 251.5h2M89.5 251.5h0M94.5 251.5h0M66.5 252.5h0M69.5 252.5h1M73.5 252.5h1M77.5 252.5h0M79.5 252.5h2M85.5 252.5h0M90.5 252.5h0M67.5 253.5h0M70.5 253.5h2M75.5 253.5h0M77.5 253.5h0M85.5 253.5h0M88.5 253.5h0M66.5 254.5h0M68.5 254.5h2M76.5 254.5h0M96.5 254.5h0M75.5 255.5h0M77.5 255.5h0M84.5 255.5h0M68.5 256.5h0" stroke="#0000ff" stroke-width="1.3" stroke-linecap="square" fill="none"/>
<path d="M66.00 247.40L200.60 175.60" stroke="#ff0000" stroke-width="1.15" fill="none"/>
<path d="M37.60 268.60v-2.2M37.60 167.60v2.2M72.36 268.60v-2.2M72.36 167.60v2.2M107.12 268.60v-2.2M107.12 167.60v2.2M141.88 268.60v-2.2M141.88 167.60v2.2M176.64 268.60v-2.2M176.64 167.60v2.2M211.40 268.60v-2.2M211.40 167.60v2.2M37.60 268.60h2.2M211.40 268.60h-2.2M37.60 243.35h2.2M211.40 243.35h-2.2M37.60 218.10h2.2M211.40 218.10h-2.2M37.60 192.85h2.2M211.40 192.85h-2.2M37.60 167.60h2.2M211.40 167.60h-2.2" stroke="#262626" stroke-width="0.9" fill="none"/>
<rect x="37.60" y="167.60" width="173.80" height="101.00" fill="none" stroke="#262626" stroke-width="0.9"/>
<text x="37.60" y="279.40" text-anchor="middle" class="tk">9.7</text>
<text x="72.36" y="279.40" text-anchor="middle" class="tk">9.75</text>
<text x="107.12" y="279.40" text-anchor="middle" class="tk">9.8</text>
<text x="141.88" y="279.40" text-anchor="middle" class="tk">9.85</text>
<text x="176.64" y="279.40" text-anchor="middle" class="tk">9.9</text>
<text x="211.40" y="279.40" text-anchor="middle" class="tk">9.95</text>
<text x="34.40" y="271.60" text-anchor="end" class="tk">2220</text>
<text x="34.40" y="246.35" text-anchor="end" class="tk">2230</text>
<text x="34.40" y="221.10" text-anchor="end" class="tk">2240</text>
<text x="34.40" y="195.85" text-anchor="end" class="tk">2250</text>
<text x="34.40" y="170.60" text-anchor="end" class="tk">2260</text>
<text x="124.50" y="289.10" text-anchor="middle" class="lb">Surface Pressure (Pa)</text>
<text transform="translate(14.60 218.80) rotate(-90)" text-anchor="middle" class="lb">GNSS-ZHD(mm)</text>
<text x="212.60" y="291.40" text-anchor="end" class="tk"><tspan font-size="9">&#215;</tspan>10<tspan dy="-3.2" font-size="5.3">4</tspan></text>
<text x="124.50" y="164.50" text-anchor="middle" class="tt">FUTY</text>
<rect x="152.40" y="248.30" width="59.00" height="20.30" fill="#fff" stroke="#262626" stroke-width="0.8"/>
<rect x="164.25" y="252.95" width="1.5" height="1.5" fill="#0000ff"/>
<path d="M154.40 263.50H175.40" stroke="#ff3030" stroke-width="1.3"/>
<text x="177.20" y="256.10" class="lg">data</text>
<text x="177.20" y="265.60" class="lg">fitted curve</text>
<path d="M291.80 167.60V268.00M316.60 167.60V268.00M341.40 167.60V268.00M366.20 167.60V268.00M391.00 167.60V268.00M415.80 167.60V268.00M267.00 251.27H440.60M267.00 234.53H440.60M267.00 217.80H440.60M267.00 201.07H440.60M267.00 184.33H440.60" stroke="#e3e3e3" stroke-width="0.8" fill="none"/>
<path d="M429.5 172.5h0M420.5 173.5h0M406.5 174.5h0M412.5 174.5h0M417.5 174.5h0M424.5 174.5h0M428.5 174.5h0M405.5 175.5h0M408.5 175.5h0M413.5 175.5h0M415.5 175.5h0M423.5 175.5h1M428.5 175.5h0M430.5 175.5h0M394.5 176.5h0M401.5 176.5h1M410.5 176.5h0M418.5 176.5h0M422.5 176.5h0M424.5 176.5h0M390.5 177.5h0M393.5 177.5h0M395.5 177.5h0M397.5 177.5h0M402.5 177.5h0M407.5 177.5h0M410.5 177.5h0M415.5 177.5h0M395.5 178.5h0M397.5 178.5h0M400.5 178.5h0M404.5 178.5h1M407.5 178.5h1M418.5 178.5h0M428.5 178.5h0M371.5 179.5h0M392.5 179.5h1M395.5 179.5h3M404.5 179.5h2M410.5 179.5h0M417.5 179.5h0M420.5 179.5h0M422.5 179.5h1M379.5 180.5h0M390.5 180.5h2M396.5 180.5h6M404.5 180.5h0M408.5 180.5h0M410.5 180.5h0M412.5 180.5h0M416.5 180.5h0M419.5 180.5h0M423.5 180.5h0M425.5 180.5h0M391.5 181.5h5M398.5 181.5h1M401.5 181.5h0M405.5 181.5h0M412.5 181.5h0M420.5 181.5h1M429.5 181.5h1M378.5 182.5h0M382.5 182.5h0M386.5 182.5h0M391.5 182.5h1M394.5 182.5h2M398.5 182.5h3M404.5 182.5h1M407.5 182.5h0M425.5 182.5h2M430.5 182.5h0M379.5 183.5h0M384.5 183.5h6M393.5 183.5h1M397.5 183.5h0M399.5 183.5h0M401.5 183.5h2M405.5 183.5h0M408.5 183.5h0M417.5 183.5h0M423.5 183.5h0M427.5 183.5h0M372.5 184.5h0M378.5 184.5h1M384.5 184.5h0M387.5 184.5h2M392.5 184.5h0M395.5 184.5h0M397.5 184.5h1M400.5 184.5h0M403.5 184.5h0M406.5 184.5h0M408.5 184.5h0M412.5 184.5h0M415.5 184.5h0M422.5 184.5h1M382.5 185.5h0M386.5 185.5h0M388.5 185.5h7M397.5 185.5h2M402.5 185.5h0M404.5 185.5h3M410.5 185.5h0M412.5 185.5h0M416.5 185.5h0M418.5 185.5h0M421.5 185.5h0M425.5 185.5h0M372.5 186.5h0M378.5 186.5h9M389.5 186.5h1M393.5 186.5h0M397.5 186.5h0M404.5 186.5h0M406.5 186.5h0M408.5 186.5h0M412.5 186.5h0M415.5 186.5h0M418.5 186.5h0M358.5 187.5h0M377.5 187.5h0M379.5 187.5h1M382.5 187.5h8M392.5 187.5h0M395.5 187.5h4M403.5 187.5h0M408.5 187.5h0M412.5 187.5h0M423.5 187.5h0M372.5 188.5h0M374.5 188.5h1M378.5 188.5h0M380.5 188.5h0M382.5 188.5h0M384.5 188.5h2M388.5 188.5h0M390.5 188.5h1M394.5 188.5h3M400.5 188.5h0M406.5 188.5h1M411.5 188.5h0M416.5 188.5h0M418.5 188.5h0M420.5 188.5h0M352.5 189.5h0M371.5 189.5h0M374.5 189.5h3M379.5 189.5h3M384.5 189.5h3M391.5 189.5h0M393.5 189.5h0M395.5 189.5h0M398.5 189.5h2M404.5 189.5h0M406.5 189.5h1M410.5 189.5h2M367.5 190.5h0M369.5 190.5h0M371.5 190.5h2M376.5 190.5h0M378.5 190.5h9M389.5 190.5h0M391.5 190.5h2M398.5 190.5h1M401.5 190.5h1M404.5 190.5h0M406.5 190.5h0M408.5 190.5h1M413.5 190.5h0M360.5 191.5h0M363.5 191.5h0M366.5 191.5h0M368.5 191.5h1M371.5 191.5h10M383.5 191.5h6M391.5 191.5h1M394.5 191.5h0M396.5 191.5h0M401.5 191.5h1M405.5 191.5h1M408.5 191.5h0M415.5 191.5h0M363.5 192.5h0M365.5 192.5h1M368.5 192.5h9M379.5 192.5h2M384.5 192.5h5M392.5 192.5h1M397.5 192.5h0M399.5 192.5h1M405.5 192.5h0M412.5 192.5h0M415.5 192.5h0M362.5 193.5h1M365.5 193.5h0M367.5 193.5h11M380.5 193.5h8M390.5 193.5h1M393.5 193.5h1M399.5 193.5h0M403.5 193.5h0M405.5 193.5h1M357.5 194.5h0M359.5 194.5h2M364.5 194.5h18M385.5 194.5h1M388.5 194.5h8M400.5 194.5h1M356.5 195.5h0M360.5 195.5h11M373.5 195.5h7M383.5 195.5h3M389.5 195.5h0M391.5 195.5h2M397.5 195.5h1M400.5 195.5h0M407.5 195.5h0M357.5 196.5h3M362.5 196.5h28M392.5 196.5h2M350.5 197.5h0M353.5 197.5h0M355.5 197.5h4M361.5 197.5h8M372.5 197.5h4M378.5 197.5h7M387.5 197.5h3M392.5 197.5h4M398.5 197.5h0M400.5 197.5h1M403.5 197.5h0M406.5 197.5h0M349.5 198.5h0M351.5 198.5h1M355.5 198.5h24M381.5 198.5h8M391.5 198.5h0M393.5 198.5h0M395.5 198.5h1M398.5 198.5h0M401.5 198.5h0M403.5 198.5h0M346.5 199.5h0M351.5 199.5h22M375.5 199.5h1M378.5 199.5h3M383.5 199.5h0M387.5 199.5h0M389.5 199.5h0M392.5 199.5h0M395.5 199.5h3M345.5 200.5h0M349.5 200.5h11M362.5 200.5h17M381.5 200.5h5M388.5 200.5h0M390.5 200.5h2M395.5 200.5h1M399.5 200.5h0M345.5 201.5h0M348.5 201.5h0M350.5 201.5h0M352.5 201.5h36M391.5 201.5h4M398.5 201.5h0M332.5 202.5h0M341.5 202.5h0M344.5 202.5h2M348.5 202.5h9M359.5 202.5h21M382.5 202.5h5M389.5 202.5h0M391.5 202.5h0M393.5 202.5h2M398.5 202.5h0M400.5 202.5h0M333.5 203.5h0M341.5 203.5h0M344.5 203.5h11M357.5 203.5h8M367.5 203.5h15M384.5 203.5h2M388.5 203.5h2M394.5 203.5h0M396.5 203.5h0M400.5 203.5h0M328.5 204.5h0M330.5 204.5h0M341.5 204.5h1M344.5 204.5h6M352.5 204.5h32M387.5 204.5h1M390.5 204.5h1M393.5 204.5h0M396.5 204.5h0M332.5 205.5h0M336.5 205.5h1M341.5 205.5h0M343.5 205.5h38M384.5 205.5h1M387.5 205.5h0M389.5 205.5h0M391.5 205.5h2M330.5 206.5h0M334.5 206.5h0M337.5 206.5h12M351.5 206.5h19M372.5 206.5h4M378.5 206.5h8M388.5 206.5h2M392.5 206.5h0M334.5 207.5h0M336.5 207.5h6M344.5 207.5h27M373.5 207.5h9M384.5 207.5h0M386.5 207.5h3M391.5 207.5h0M330.5 208.5h7M339.5 208.5h39M380.5 208.5h7M390.5 208.5h0M329.5 209.5h1M332.5 209.5h2M336.5 209.5h14M352.5 209.5h14M368.5 209.5h15M385.5 209.5h0M388.5 209.5h1M323.5 210.5h0M325.5 210.5h3M330.5 210.5h19M351.5 210.5h11M364.5 210.5h11M377.5 210.5h7M394.5 210.5h0M324.5 211.5h2M328.5 211.5h12M342.5 211.5h21M365.5 211.5h16M384.5 211.5h2M321.5 212.5h2M325.5 212.5h1M328.5 212.5h12M342.5 212.5h0M344.5 212.5h36M382.5 212.5h1M322.5 213.5h0M324.5 213.5h2M328.5 213.5h23M353.5 213.5h28M385.5 213.5h0M318.5 214.5h0M320.5 214.5h5M327.5 214.5h49M378.5 214.5h0M381.5 214.5h1M384.5 214.5h0M315.5 215.5h0M318.5 215.5h3M325.5 215.5h0M327.5 215.5h22M352.5 215.5h6M360.5 215.5h19M320.5 216.5h1M323.5 216.5h6M332.5 216.5h31M365.5 216.5h7M374.5 216.5h1M377.5 216.5h0M315.5 217.5h1M318.5 217.5h14M334.5 217.5h18M354.5 217.5h13M370.5 217.5h5M380.5 217.5h0M316.5 218.5h36M354.5 218.5h15M372.5 218.5h0M374.5 218.5h1M377.5 218.5h0M313.5 219.5h0M315.5 219.5h5M322.5 219.5h3M327.5 219.5h24M353.5 219.5h19M374.5 219.5h0M311.5 220.5h0M313.5 220.5h6M321.5 220.5h1M324.5 220.5h22M348.5 220.5h15M365.5 220.5h8M309.5 221.5h0M312.5 221.5h1M315.5 221.5h4M321.5 221.5h2M325.5 221.5h9M336.5 221.5h32M370.5 221.5h0M309.5 222.5h0M311.5 222.5h8M321.5 222.5h10M333.5 222.5h29M364.5 222.5h0M366.5 222.5h2M370.5 222.5h2M297.5 223.5h0M307.5 223.5h1M311.5 223.5h8M321.5 223.5h1M326.5 223.5h4M332.5 223.5h19M353.5 223.5h11M366.5 223.5h0M368.5 223.5h0M370.5 223.5h0M308.5 224.5h0M310.5 224.5h0M312.5 224.5h11M325.5 224.5h42M307.5 225.5h0M309.5 225.5h2M313.5 225.5h6M321.5 225.5h7M330.5 225.5h35M305.5 226.5h3M310.5 226.5h4M316.5 226.5h1M319.5 226.5h7M328.5 226.5h31M361.5 226.5h1M364.5 226.5h1M307.5 227.5h11M320.5 227.5h1M323.5 227.5h36M361.5 227.5h0M363.5 227.5h0M369.5 227.5h0M303.5 228.5h2M308.5 228.5h5M315.5 228.5h43M361.5 228.5h0M301.5 229.5h1M305.5 229.5h8M315.5 229.5h42M362.5 229.5h0M303.5 230.5h4M310.5 230.5h0M312.5 230.5h0M315.5 230.5h38M355.5 230.5h1M358.5 230.5h0M360.5 230.5h0M305.5 231.5h19M326.5 231.5h14M342.5 231.5h11M356.5 231.5h0M358.5 231.5h0M298.5 232.5h0M301.5 232.5h2M307.5 232.5h0M309.5 232.5h0M313.5 232.5h41M296.5 233.5h3M301.5 233.5h2M305.5 233.5h0M309.5 233.5h0M311.5 233.5h2M315.5 233.5h4M321.5 233.5h28M298.5 234.5h4M304.5 234.5h3M310.5 234.5h4M316.5 234.5h19M337.5 234.5h6M347.5 234.5h0M293.5 235.5h1M297.5 235.5h3M302.5 235.5h1M305.5 235.5h5M313.5 235.5h30M346.5 235.5h0M290.5 236.5h0M293.5 236.5h2M299.5 236.5h1M302.5 236.5h3M307.5 236.5h2M312.5 236.5h3M317.5 236.5h0M319.5 236.5h2M323.5 236.5h14M340.5 236.5h2M344.5 236.5h0M291.5 237.5h0M297.5 237.5h1M301.5 237.5h0M305.5 237.5h1M308.5 237.5h1M311.5 237.5h0M313.5 237.5h0M315.5 237.5h5M322.5 237.5h4M328.5 237.5h12M342.5 237.5h0M289.5 238.5h0M292.5 238.5h3M297.5 238.5h0M299.5 238.5h1M302.5 238.5h0M304.5 238.5h2M308.5 238.5h2M312.5 238.5h3M317.5 238.5h0M319.5 238.5h21M283.5 239.5h0M288.5 239.5h0M292.5 239.5h0M297.5 239.5h0M300.5 239.5h0M303.5 239.5h0M306.5 239.5h7M315.5 239.5h6M323.5 239.5h7M332.5 239.5h4M338.5 239.5h0M344.5 239.5h0M285.5 240.5h0M288.5 240.5h3M297.5 240.5h1M303.5 240.5h0M306.5 240.5h0M309.5 240.5h2M313.5 240.5h1M316.5 240.5h17M336.5 240.5h0M283.5 241.5h0M287.5 241.5h0M290.5 241.5h1M295.5 241.5h0M297.5 241.5h5M304.5 241.5h3M309.5 241.5h1M312.5 241.5h3M317.5 241.5h11M332.5 241.5h0M339.5 241.5h0M285.5 242.5h1M288.5 242.5h1M291.5 242.5h0M294.5 242.5h0M296.5 242.5h4M302.5 242.5h0M304.5 242.5h1M307.5 242.5h10M320.5 242.5h1M323.5 242.5h2M329.5 242.5h0M334.5 242.5h0M285.5 243.5h0M289.5 243.5h0M291.5 243.5h1M294.5 243.5h5M301.5 243.5h1M305.5 243.5h7M314.5 243.5h5M323.5 243.5h0M325.5 243.5h1M286.5 244.5h0M298.5 244.5h2M302.5 244.5h7M311.5 244.5h6M319.5 244.5h1M322.5 244.5h0M325.5 244.5h1M330.5 244.5h0M287.5 245.5h0M289.5 245.5h1M294.5 245.5h0M296.5 245.5h0M298.5 245.5h1M301.5 245.5h4M308.5 245.5h5M319.5 245.5h0M289.5 246.5h0M296.5 246.5h1M301.5 246.5h1M304.5 246.5h0M306.5 246.5h3M311.5 246.5h3M317.5 246.5h0M320.5 246.5h0M288.5 247.5h0M290.5 247.5h0M292.5 247.5h0M294.5 247.5h0M297.5 247.5h0M299.5 247.5h0M301.5 247.5h4M307.5 247.5h2M284.5 248.5h0M291.5 248.5h0M296.5 248.5h1M299.5 248.5h1M306.5 248.5h2M283.5 249.5h0M287.5 249.5h1M290.5 249.5h0M300.5 249.5h2M306.5 249.5h1M309.5 249.5h0M292.5 250.5h0M295.5 250.5h0M297.5 250.5h0M301.5 250.5h0M303.5 250.5h0M307.5 250.5h0M292.5 251.5h0M294.5 251.5h1M300.5 251.5h2M306.5 251.5h1M337.5 251.5h0M286.5 252.5h0M300.5 252.5h0M317.5 252.5h0M309.5 253.5h0M298.5 254.5h0M311.5 259.5h0" stroke="#0000ff" stroke-width="1.3" stroke-linecap="square" fill="none"/>
<path d="M283.60 246.00L430.60 180.40" stroke="#ff0000" stroke-width="1.15" fill="none"/>
<path d="M267.00 268.00v-2.2M267.00 167.60v2.2M291.80 268.00v-2.2M291.80 167.60v2.2M316.60 268.00v-2.2M316.60 167.60v2.2M341.40 268.00v-2.2M341.40 167.60v2.2M366.20 268.00v-2.2M366.20 167.60v2.2M391.00 268.00v-2.2M391.00 167.60v2.2M415.80 268.00v-2.2M415.80 167.60v2.2M440.60 268.00v-2.2M440.60 167.60v2.2M267.00 268.00h2.2M440.60 268.00h-2.2M267.00 251.27h2.2M440.60 251.27h-2.2M267.00 234.53h2.2M440.60 234.53h-2.2M267.00 217.80h2.2M440.60 217.80h-2.2M267.00 201.07h2.2M440.60 201.07h-2.2M267.00 184.33h2.2M440.60 184.33h-2.2M267.00 167.60h2.2M440.60 167.60h-2.2" stroke="#262626" stroke-width="0.9" fill="none"/>
<rect x="267.00" y="167.60" width="173.60" height="100.40" fill="none" stroke="#262626" stroke-width="0.9"/>
<text x="267.00" y="278.80" text-anchor="middle" class="tk">9.52</text>
<text x="291.80" y="278.80" text-anchor="middle" class="tk">9.54</text>
<text x="316.60" y="278.80" text-anchor="middle" class="tk">9.56</text>
<text x="341.40" y="278.80" text-anchor="middle" class="tk">9.58</text>
<text x="366.20" y="278.80" text-anchor="middle" class="tk">9.6</text>
<text x="391.00" y="278.80" text-anchor="middle" class="tk">9.62</text>
<text x="415.80" y="278.80" text-anchor="middle" class="tk">9.64</text>
<text x="440.60" y="278.80" text-anchor="middle" class="tk">9.66</text>
<text x="263.80" y="271.00" text-anchor="end" class="tk">2160</text>
<text x="263.80" y="254.27" text-anchor="end" class="tk">2165</text>
<text x="263.80" y="237.53" text-anchor="end" class="tk">2170</text>
<text x="263.80" y="220.80" text-anchor="end" class="tk">2175</text>
<text x="263.80" y="204.07" text-anchor="end" class="tk">2180</text>
<text x="263.80" y="187.33" text-anchor="end" class="tk">2185</text>
<text x="263.80" y="170.60" text-anchor="end" class="tk">2190</text>
<text x="353.80" y="288.50" text-anchor="middle" class="lb">Surface Pressure (Pa)</text>
<text transform="translate(244.30 218.50) rotate(-90)" text-anchor="middle" class="lb">GNSS-ZHD(mm)</text>
<text x="441.80" y="290.80" text-anchor="end" class="tk"><tspan font-size="9">&#215;</tspan>10<tspan dy="-3.2" font-size="5.3">4</tspan></text>
<text x="353.80" y="164.50" text-anchor="middle" class="tt">OSGF</text>
<rect x="381.60" y="247.70" width="59.00" height="20.30" fill="#fff" stroke="#262626" stroke-width="0.8"/>
<rect x="393.45" y="252.35" width="1.5" height="1.5" fill="#0000ff"/>
<path d="M383.60 262.90H404.60" stroke="#ff3030" stroke-width="1.3"/>
<text x="406.40" y="255.50" class="lg">data</text>
<text x="406.40" y="265.00" class="lg">fitted curve</text>
<path d="M539.82 167.60V267.30M583.35 167.60V267.30M626.87 167.60V267.30M496.30 250.85H670.40M496.30 234.40H670.40M496.30 217.94H670.40M496.30 201.49H670.40M496.30 185.04H670.40M496.30 168.59H670.40" stroke="#e3e3e3" stroke-width="0.8" fill="none"/>
<path d="M644.5 168.5h0M651.5 168.5h0M615.5 169.5h0M622.5 169.5h0M624.5 169.5h0M646.5 169.5h0M618.5 170.5h0M625.5 170.5h0M627.5 170.5h1M630.5 170.5h0M634.5 170.5h0M623.5 171.5h0M628.5 171.5h4M643.5 171.5h1M622.5 172.5h0M624.5 172.5h0M626.5 172.5h2M630.5 172.5h0M633.5 172.5h4M640.5 172.5h0M642.5 172.5h0M646.5 172.5h0M621.5 173.5h0M623.5 173.5h2M627.5 173.5h0M629.5 173.5h2M636.5 173.5h0M638.5 173.5h1M646.5 173.5h2M608.5 174.5h0M611.5 174.5h0M619.5 174.5h1M622.5 174.5h0M624.5 174.5h14M644.5 174.5h0M646.5 174.5h0M651.5 174.5h0M600.5 175.5h0M617.5 175.5h0M619.5 175.5h4M625.5 175.5h7M634.5 175.5h5M645.5 175.5h2M615.5 176.5h0M617.5 176.5h8M627.5 176.5h8M637.5 176.5h0M639.5 176.5h1M645.5 176.5h1M611.5 177.5h0M614.5 177.5h19M636.5 177.5h0M639.5 177.5h1M647.5 177.5h0M649.5 177.5h0M611.5 178.5h1M615.5 178.5h17M635.5 178.5h3M600.5 179.5h0M610.5 179.5h1M614.5 179.5h21M637.5 179.5h1M641.5 179.5h1M645.5 179.5h0M610.5 180.5h0M612.5 180.5h5M620.5 180.5h15M637.5 180.5h0M641.5 180.5h2M604.5 181.5h1M608.5 181.5h2M612.5 181.5h20M634.5 181.5h1M638.5 181.5h0M640.5 181.5h0M605.5 182.5h26M633.5 182.5h2M637.5 182.5h4M644.5 182.5h0M585.5 183.5h0M604.5 183.5h23M629.5 183.5h7M639.5 183.5h0M642.5 183.5h0M596.5 184.5h0M601.5 184.5h0M605.5 184.5h23M630.5 184.5h4M637.5 184.5h0M641.5 184.5h0M644.5 184.5h0M584.5 185.5h0M598.5 185.5h0M600.5 185.5h31M633.5 185.5h4M596.5 186.5h0M598.5 186.5h0M600.5 186.5h30M632.5 186.5h0M635.5 186.5h1M638.5 186.5h1M642.5 186.5h0M589.5 187.5h0M597.5 187.5h38M583.5 188.5h0M595.5 188.5h26M623.5 188.5h6M631.5 188.5h2M637.5 188.5h0M592.5 189.5h39M633.5 189.5h0M635.5 189.5h0M638.5 189.5h0M590.5 190.5h0M592.5 190.5h40M636.5 190.5h0M591.5 191.5h43M588.5 192.5h37M627.5 192.5h4M587.5 193.5h0M589.5 193.5h37M628.5 193.5h3M633.5 193.5h1M579.5 194.5h0M584.5 194.5h0M586.5 194.5h25M613.5 194.5h17M634.5 194.5h0M583.5 195.5h19M604.5 195.5h26M633.5 195.5h0M582.5 196.5h44M628.5 196.5h1M579.5 197.5h0M582.5 197.5h11M595.5 197.5h33M577.5 198.5h0M581.5 198.5h46M578.5 199.5h50M577.5 200.5h0M579.5 200.5h41M622.5 200.5h1M626.5 200.5h0M577.5 201.5h43M622.5 201.5h1M625.5 201.5h0M575.5 202.5h46M623.5 202.5h1M575.5 203.5h46M623.5 203.5h0M632.5 203.5h0M570.5 204.5h1M573.5 204.5h0M575.5 204.5h43M620.5 204.5h0M624.5 204.5h0M573.5 205.5h7M582.5 205.5h34M618.5 205.5h2M571.5 206.5h0M573.5 206.5h40M615.5 206.5h3M620.5 206.5h0M571.5 207.5h46M569.5 208.5h45M617.5 208.5h1M564.5 209.5h0M567.5 209.5h0M569.5 209.5h46M567.5 210.5h45M563.5 211.5h1M566.5 211.5h42M610.5 211.5h3M562.5 212.5h0M564.5 212.5h46M612.5 212.5h1M559.5 213.5h52M563.5 214.5h45M611.5 214.5h0M553.5 215.5h0M556.5 215.5h0M558.5 215.5h51M558.5 216.5h48M612.5 216.5h0M553.5 217.5h1M556.5 217.5h50M609.5 217.5h0M550.5 218.5h0M555.5 218.5h1M558.5 218.5h47M608.5 218.5h0M551.5 219.5h53M551.5 220.5h0M553.5 220.5h26M581.5 220.5h20M548.5 221.5h2M552.5 221.5h48M603.5 221.5h0M547.5 222.5h0M549.5 222.5h0M551.5 222.5h47M600.5 222.5h0M605.5 222.5h0M607.5 222.5h0M547.5 223.5h48M597.5 223.5h1M544.5 224.5h3M549.5 224.5h48M544.5 225.5h7M553.5 225.5h39M594.5 225.5h0M598.5 225.5h0M602.5 225.5h0M543.5 226.5h19M564.5 226.5h32M545.5 227.5h1M548.5 227.5h46M597.5 227.5h0M616.5 227.5h0M543.5 228.5h51M543.5 229.5h47M603.5 229.5h0M543.5 230.5h47M593.5 230.5h0M538.5 231.5h0M540.5 231.5h47M589.5 231.5h1M597.5 231.5h0M540.5 232.5h0M542.5 232.5h0M544.5 232.5h2M548.5 232.5h24M574.5 232.5h16M539.5 233.5h45M586.5 233.5h0M589.5 233.5h0M539.5 234.5h0M542.5 234.5h45M596.5 234.5h0M534.5 235.5h0M538.5 235.5h0M540.5 235.5h1M543.5 235.5h41M589.5 235.5h0M542.5 236.5h39M584.5 236.5h0M586.5 236.5h1M534.5 237.5h0M536.5 237.5h2M540.5 237.5h1M543.5 237.5h0M545.5 237.5h30M577.5 237.5h1M580.5 237.5h0M582.5 237.5h1M538.5 238.5h3M543.5 238.5h3M548.5 238.5h31M588.5 238.5h0M535.5 239.5h0M539.5 239.5h1M542.5 239.5h38M582.5 239.5h0M533.5 240.5h0M538.5 240.5h0M540.5 240.5h0M542.5 240.5h0M544.5 240.5h30M576.5 240.5h4M533.5 241.5h3M539.5 241.5h6M547.5 241.5h0M549.5 241.5h20M572.5 241.5h3M532.5 242.5h0M541.5 242.5h30M574.5 242.5h1M578.5 242.5h0M580.5 242.5h0M588.5 242.5h0M531.5 243.5h0M534.5 243.5h2M539.5 243.5h7M548.5 243.5h21M571.5 243.5h0M573.5 243.5h1M528.5 244.5h1M531.5 244.5h1M537.5 244.5h2M541.5 244.5h3M546.5 244.5h22M570.5 244.5h0M573.5 244.5h0M530.5 245.5h0M532.5 245.5h0M534.5 245.5h1M538.5 245.5h2M542.5 245.5h20M564.5 245.5h0M566.5 245.5h0M568.5 245.5h0M576.5 245.5h0M580.5 245.5h0M530.5 246.5h0M532.5 246.5h0M535.5 246.5h0M537.5 246.5h1M540.5 246.5h0M542.5 246.5h16M560.5 246.5h2M564.5 246.5h1M568.5 246.5h0M527.5 247.5h1M530.5 247.5h0M536.5 247.5h0M541.5 247.5h0M543.5 247.5h5M550.5 247.5h0M552.5 247.5h5M559.5 247.5h2M563.5 247.5h0M576.5 247.5h0M530.5 248.5h0M533.5 248.5h0M539.5 248.5h1M542.5 248.5h2M546.5 248.5h14M532.5 249.5h0M537.5 249.5h6M545.5 249.5h7M554.5 249.5h0M557.5 249.5h2M527.5 250.5h0M531.5 250.5h1M536.5 250.5h13M551.5 250.5h0M553.5 250.5h0M557.5 250.5h1M529.5 251.5h0M531.5 251.5h0M533.5 251.5h2M537.5 251.5h1M540.5 251.5h7M550.5 251.5h0M557.5 251.5h0M576.5 251.5h0M532.5 252.5h0M535.5 252.5h0M537.5 252.5h1M540.5 252.5h5M547.5 252.5h3M574.5 252.5h0M531.5 253.5h0M535.5 253.5h1M538.5 253.5h6M550.5 253.5h0M527.5 254.5h0M534.5 254.5h1M538.5 254.5h2M542.5 254.5h0M546.5 254.5h0M529.5 255.5h1M537.5 255.5h0M540.5 255.5h2M530.5 256.5h0M540.5 256.5h0M543.5 256.5h0M528.5 257.5h0M530.5 257.5h0M538.5 257.5h0M541.5 257.5h1M572.5 257.5h0" stroke="#0000ff" stroke-width="1.3" stroke-linecap="square" fill="none"/>
<path d="M527.00 254.00L652.40 171.00" stroke="#ff0000" stroke-width="1.15" fill="none"/>
<path d="M496.30 267.30v-2.2M496.30 167.60v2.2M539.82 267.30v-2.2M539.82 167.60v2.2M583.35 267.30v-2.2M583.35 167.60v2.2M626.87 267.30v-2.2M626.87 167.60v2.2M670.40 267.30v-2.2M670.40 167.60v2.2M496.30 267.30h2.2M670.40 267.30h-2.2M496.30 250.85h2.2M670.40 250.85h-2.2M496.30 234.40h2.2M670.40 234.40h-2.2M496.30 217.94h2.2M670.40 217.94h-2.2M496.30 201.49h2.2M670.40 201.49h-2.2M496.30 185.04h2.2M670.40 185.04h-2.2M496.30 168.59h2.2M670.40 168.59h-2.2" stroke="#262626" stroke-width="0.9" fill="none"/>
<rect x="496.30" y="167.60" width="174.10" height="99.70" fill="none" stroke="#262626" stroke-width="0.9"/>
<text x="496.30" y="278.10" text-anchor="middle" class="tk">9.8</text>
<text x="539.82" y="278.10" text-anchor="middle" class="tk">9.85</text>
<text x="583.35" y="278.10" text-anchor="middle" class="tk">9.9</text>
<text x="626.87" y="278.10" text-anchor="middle" class="tk">9.95</text>
<text x="670.40" y="278.10" text-anchor="middle" class="tk">10</text>
<text x="493.10" y="270.30" text-anchor="end" class="tk">2230</text>
<text x="493.10" y="253.85" text-anchor="end" class="tk">2235</text>
<text x="493.10" y="237.40" text-anchor="end" class="tk">2240</text>
<text x="493.10" y="220.94" text-anchor="end" class="tk">2245</text>
<text x="493.10" y="204.49" text-anchor="end" class="tk">2250</text>
<text x="493.10" y="188.04" text-anchor="end" class="tk">2255</text>
<text x="493.10" y="171.59" text-anchor="end" class="tk">2260</text>
<text x="583.35" y="287.80" text-anchor="middle" class="lb">Surface Pressure (Pa)</text>
<text transform="translate(472.40 218.15) rotate(-90)" text-anchor="middle" class="lb">GNSS-ZHD(mm)</text>
<text x="671.60" y="290.10" text-anchor="end" class="tk"><tspan font-size="9">&#215;</tspan>10<tspan dy="-3.2" font-size="5.3">4</tspan></text>
<text x="583.35" y="164.50" text-anchor="middle" class="tt">UNEC</text>
<rect x="611.40" y="247.00" width="59.00" height="20.30" fill="#fff" stroke="#262626" stroke-width="0.8"/>
<rect x="623.25" y="251.65" width="1.5" height="1.5" fill="#0000ff"/>
<path d="M613.40 262.20H634.40" stroke="#ff3030" stroke-width="1.3"/>
<text x="636.20" y="254.80" class="lg">data</text>
<text x="636.20" y="264.30" class="lg">fitted curve</text>
<rect x="0.5" y="0.5" width="684" height="294" fill="none" stroke="#262626" stroke-width="1"/>
</svg>
</body></html>
